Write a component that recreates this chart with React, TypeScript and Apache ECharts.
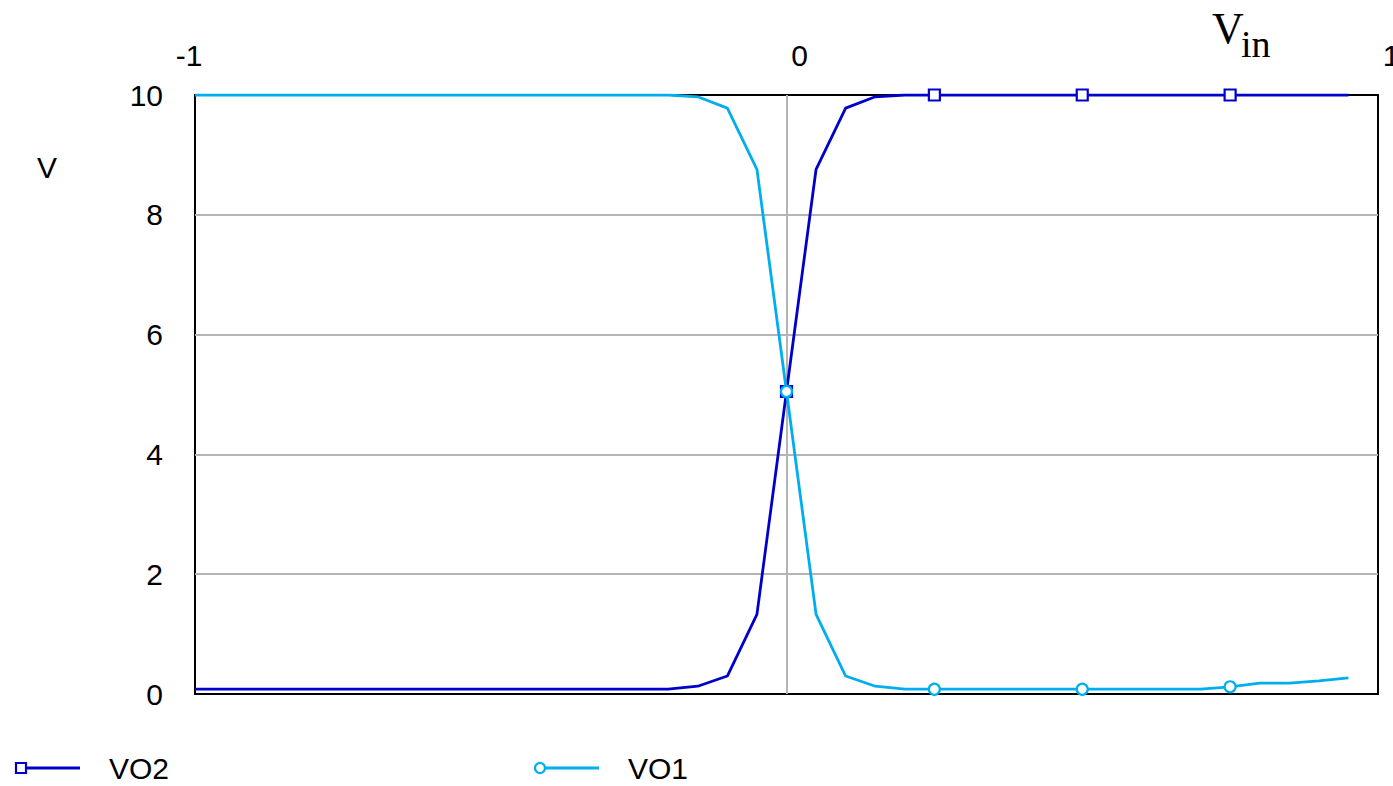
import React, { useEffect, useRef } from "react";
import * as echarts from "echarts";

const xValues = [
  -1, -0.95, -0.9, -0.85, -0.8, -0.75, -0.7, -0.65, -0.6, -0.55,
  -0.5, -0.45, -0.4, -0.35, -0.3, -0.25, -0.2, -0.15, -0.1, -0.05,
  0, 0.05, 0.1, 0.15, 0.2, 0.25, 0.3, 0.35, 0.4, 0.45,
  0.5, 0.55, 0.6, 0.65, 0.7, 0.75, 0.8, 0.85, 0.9, 0.95,
];

const vo2 = [
  0.08, 0.08, 0.08, 0.08, 0.08, 0.08, 0.08, 0.08, 0.08, 0.08,
  0.08, 0.08, 0.08, 0.08, 0.08, 0.08, 0.08, 0.13, 0.3, 1.33,
  5.05, 8.76, 9.78, 9.97, 10, 10, 10, 10, 10, 10,
  10, 10, 10, 10, 10, 10, 10, 10, 10, 10,
];

const vo1 = [
  10, 10, 10, 10, 10, 10, 10, 10, 10, 10,
  10, 10, 10, 10, 10, 10, 10, 9.97, 9.78, 8.76,
  5.05, 1.33, 0.3, 0.13, 0.08, 0.08, 0.08, 0.08, 0.08, 0.08,
  0.08, 0.08, 0.08, 0.08, 0.08, 0.12, 0.18, 0.18, 0.22, 0.27,
];

// markers drawn at every 5th sample from x = 0
const markerXs = [0, 0.25, 0.5, 0.75];

const xTickLabels: Record<string, string> = { "-1": "-1", "0": "0", "1": "1" };
const yTicks = [0, 2, 4, 6, 8, 10];

const seriesNames = ["VO2", "VO1"];
const C_VO2 = "#0000CC";
const C_VO1 = "#00AEEF";
const GRAY = "#B4B4B4";
const FONT = "'Liberation Sans', Arial, sans-serif";
const SERIF = "'Liberation Serif', 'Times New Roman', serif";

export default function App() {
  const ref = useRef<HTMLDivElement>(null);

  useEffect(() => {
    if (!ref.current) return;
    const chart = echarts.init(ref.current, null, { renderer: "svg" });

    const pairs = (ys: number[]) => xValues.map((x, i) => [x, ys[i]]);
    const markers = (ys: number[]) =>
      xValues
        .map((x, i) => [x, ys[i]])
        .filter((p) => markerXs.some((m) => Math.abs(m - p[0]) < 1e-9));

    const option: any = {
      animation: false,
      backgroundColor: "#fff",
      textStyle: { fontFamily: FONT },
      grid: {
        left: 195,
        right: 15,
        top: 95,
        bottom: 92,
        outerBoundsMode: "none",
        containLabel: false,
        show: true,
        borderColor: "#000",
        borderWidth: 2,
        backgroundColor: "transparent",
      },
      xAxis: {
        type: "value",
        position: "top",
        min: -1,
        max: 1,
        interval: 1,
        axisLine: { show: false },
        axisTick: { show: false },
        splitLine: {
          show: true,
          lineStyle: { color: ["rgba(0,0,0,0)", GRAY], width: 2 },
        },
        axisLabel: {
          margin: 25,
          fontSize: 30,
          color: "#000",
          fontFamily: FONT,
          formatter: (v: number) => {
            const s = xTickLabels[String(v)] ?? String(v);
            return v < 0 ? "{m|" + s + "}" : "{p|" + s + "}";
          },
          rich: {
            m: { fontSize: 30, color: "#000", fontFamily: FONT, padding: [0, 12, 0, 0] },
            p: { fontSize: 30, color: "#000", fontFamily: FONT, padding: [0, 0, 0, 26] },
          },
        },
      },
      yAxis: {
        type: "value",
        min: 0,
        max: 10,
        interval: 2,
        axisLine: { show: false },
        axisTick: { show: false },
        splitLine: {
          show: true,
          lineStyle: {
            color: yTicks.map((t) => (t === 0 || t === 10 ? "rgba(0,0,0,0)" : GRAY)),
            width: 2,
          },
        },
        axisLabel: {
          margin: 32,
          fontSize: 30,
          color: "#000",
          fontFamily: FONT,
        },
      },
      series: [
        {
          name: seriesNames[0],
          type: "line",
          data: pairs(vo2),
          showSymbol: false,
          symbol: "none",
          lineStyle: { color: C_VO2, width: 2.8 },
          itemStyle: { color: C_VO2 },
          z: 2,
        },
        {
          name: seriesNames[1],
          type: "line",
          data: pairs(vo1),
          showSymbol: false,
          symbol: "none",
          lineStyle: { color: C_VO1, width: 2.8 },
          itemStyle: { color: C_VO1 },
          z: 3,
        },
        {
          name: seriesNames[0] + " markers",
          type: "scatter",
          data: markers(vo2),
          symbol: "rect",
          symbolSize: 11,
          itemStyle: { color: "#fff", borderColor: C_VO2, borderWidth: 2.2, opacity: 1 },
          z: 4,
        },
        {
          name: seriesNames[1] + " markers",
          type: "scatter",
          data: markers(vo1),
          symbol: "circle",
          symbolSize: 11,
          itemStyle: { color: "#fff", borderColor: C_VO1, borderWidth: 2.2, opacity: 1 },
          z: 5,
        },
      ],
      graphic: [
        {
          type: "text",
          left: 37,
          top: 152,
          style: { text: "V", fill: "#000", font: "30px " + FONT },
        },
        {
          type: "text",
          x: 1212,
          y: 6,
          style: { text: "V", font: "44px " + SERIF, fill: "#000", verticalAlign: "top" },
        },
        {
          type: "text",
          x: 1241,
          y: 25,
          style: { text: "in", font: "38px " + SERIF, fill: "#000", verticalAlign: "top" },
        },
        // legend VO2
        {
          type: "line",
          shape: { x1: 21, y1: 768, x2: 80, y2: 768 },
          style: { stroke: C_VO2, lineWidth: 2.8 },
        },
        {
          type: "rect",
          shape: { x: 16, y: 763, width: 10, height: 10 },
          style: { fill: "#fff", stroke: C_VO2, lineWidth: 2.2 },
        },
        {
          type: "text",
          x: 109,
          y: 768,
          style: { text: seriesNames[0], font: "30px " + FONT, fill: "#000", verticalAlign: "middle" },
        },
        // legend VO1
        {
          type: "line",
          shape: { x1: 540, y1: 768, x2: 599, y2: 768 },
          style: { stroke: C_VO1, lineWidth: 2.8 },
        },
        {
          type: "circle",
          shape: { cx: 540, cy: 768, r: 5 },
          style: { fill: "#fff", stroke: C_VO1, lineWidth: 2.2 },
        },
        {
          type: "text",
          x: 628,
          y: 768,
          style: { text: seriesNames[1], font: "30px " + FONT, fill: "#000", verticalAlign: "middle" },
        },
      ],
    };

    chart.setOption(option);
    return () => chart.dispose();
  }, []);

  return (
    <div
      ref={ref}
      style={{ position: "fixed", left: 0, top: 0, width: 1393, height: 786, background: "#fff" }}
    />
  );
}
